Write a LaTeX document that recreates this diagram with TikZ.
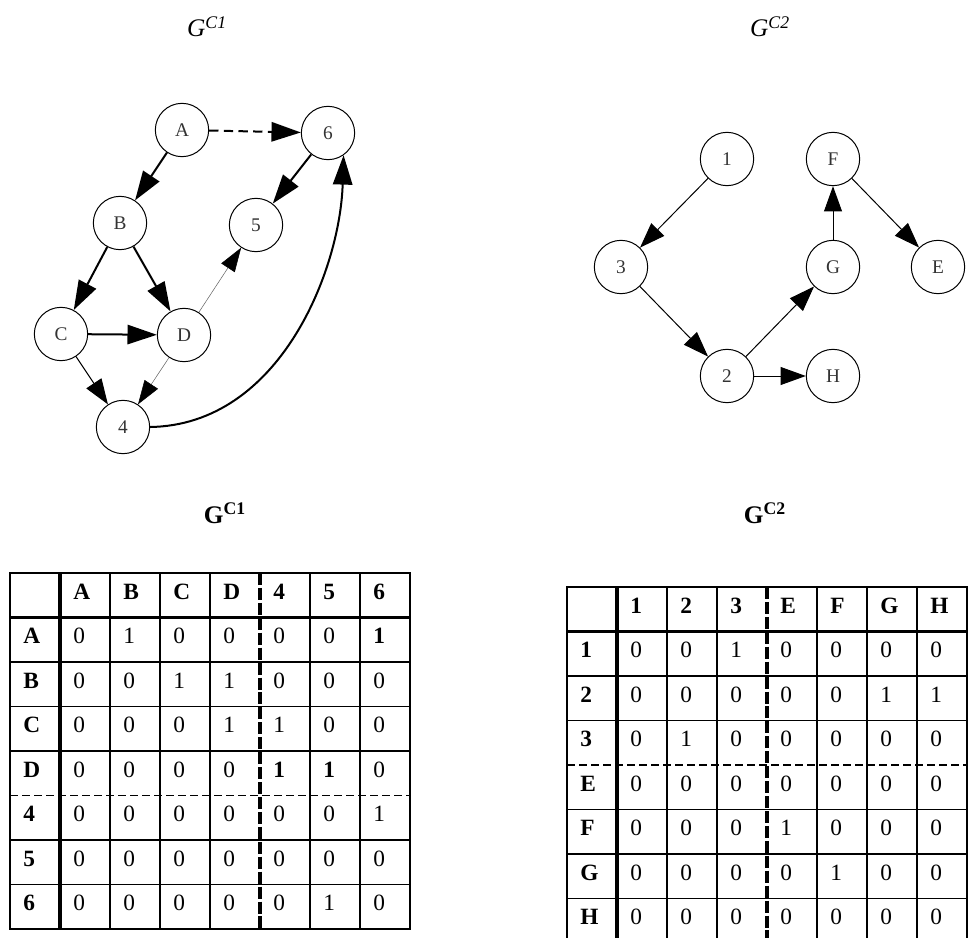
\documentclass[tikz,border=0pt]{standalone}
\usepackage{fontspec}
\setmainfont{Liberation Serif}
\usetikzlibrary{arrows.meta}

\begin{document}
\begin{tikzpicture}[x=0.75pt,y=0.75pt,yscale=-1,xscale=1,
  vertex/.style={circle, draw, line width=0.75pt, minimum size=40pt, inner sep=0pt, text=black!80, font=\fontsize{14.5}{16}\selectfont},
  heavy/.style={line width=1.5pt, -{Triangle[length=22pt,width=14.5pt]}},
  light/.style={line width=0.75pt, -{Triangle[length=19pt,width=13.5pt]}},
  faint/.style={line width=0.4pt, draw=black!60, -{Triangle[length=18pt,width=12pt,color=black]}},
  entry/.style={anchor=base west, inner sep=0pt, font=\fontsize{17.5}{20}\selectfont},
  heading/.style={anchor=base, inner sep=0pt, font=\fontsize{19}{22}\selectfont},
  gridline/.style={line width=1.1pt},
  outline/.style={line width=1.5pt},
  sepline/.style={line width=2.3pt},
  cutv/.style={line width=3pt, dash pattern={on 9pt off 2.2pt}},
  cuth/.style={line width=1.1pt, dash pattern={on 6pt off 3pt}}]
\useasboundingbox (0,0) rectangle (971,938);

% Titles
\node[heading] (t1) at (207,37) {\textit{G}\textsuperscript{\textit{C1}}};
\node[heading] (t2) at (770,37) {\textit{G}\textsuperscript{\textit{C2}}};
\node[heading] (m1) at (225,523) {\textbf{G}\textsuperscript{\textbf{C1}}};
\node[heading] (m2) at (765,523) {\textbf{G}\textsuperscript{\textbf{C2}}};

% first component
\node[vertex] (A) at (182,130) {A};
\node[vertex] (n6) at (328,133) {6};
\node[vertex] (B) at (120,223) {B};
\node[vertex] (n5) at (256,225) {5};
\node[vertex] (C) at (61,334) {C};
\node[vertex] (D) at (184,335) {D};
\node[vertex] (n4) at (123,427) {4};

\draw[heavy, dash pattern={on 7pt off 4pt}] (A) -- (n6);
\draw[heavy] (A) -- (B);
\draw[heavy] (n6) -- (n5);
\draw[heavy] (B) -- (C);
\draw[heavy] (B) -- (D);
\draw[heavy] (C) -- (D);
\draw[light] (C) -- (n4);
\draw[faint] (D) -- (n4);
\draw[faint] (D) -- (n5);
\draw[heavy] (n4.east) .. controls (280,425) and (340,270) .. (n6.-55);

% second component
\node[vertex] (n1) at (727,159) {1};
\node[vertex] (F) at (833,159) {F};
\node[vertex] (n3) at (621,267) {3};
\node[vertex] (G) at (833,267) {G};
\node[vertex] (E) at (938,267) {E};
\node[vertex] (n2) at (727,376) {2};
\node[vertex] (H) at (833,376) {H};

\draw[light] (n1) -- (n3);
\draw[light] (n3) -- (n2);
\draw[light] (n2) -- (G);
\draw[light] (n2) -- (H);
\draw[light] (G) -- (F);
\draw[light] (F) -- (E);

% matrix of the first component
\foreach \i in {2,3,4,6,7} \draw[gridline] (10+50*\i,573) -- (10+50*\i,929);
\foreach \k in {2,3,4,6,7} \draw[gridline] (10,573+44.5*\k) -- (410,573+44.5*\k);
\draw[sepline] (60,573) -- (60,929);
\draw[sepline] (10,617.5) -- (410,617.5);
\draw[cuth] (10,795.5) -- (410,795.5);
\draw[cutv] (260,573) -- (260,929);
\draw[outline] (10,573) rectangle (410,929);

\foreach \line [count=\r from 0] in {
    {{},\textbf{A},\textbf{B},\textbf{C},\textbf{D},\textbf{4},\textbf{5},\textbf{6}},
    {\textbf{A},0,1,0,0,0,0,\textbf{1}},
    {\textbf{B},0,0,1,1,0,0,0},
    {\textbf{C},0,0,0,1,1,0,0},
    {\textbf{D},0,0,0,0,\textbf{1},\textbf{1},0},
    {\textbf{4},0,0,0,0,0,0,1},
    {\textbf{5},0,0,0,0,0,0,0},
    {\textbf{6},0,0,0,0,0,1,0}}
  \foreach \val [count=\c from 0] in \line
    \node[entry] (p-\r-\c) at (23+50*\c,599+44.5*\r) {\val};

% matrix of the second component
\foreach \i in {2,3,5,6,7} \draw[gridline] (567+50*\i,587) -- (567+50*\i,938);
\foreach \k in {2,3,5,6,7} \draw[gridline] (567,587+44.5*\k) -- (967,587+44.5*\k);
\draw[sepline] (617,587) -- (617,938);
\draw[sepline] (567,631.5) -- (967,631.5);
\draw[cuth] (567,765) -- (967,765);
\draw[cutv] (767,587) -- (767,938);
\draw[outline] (567,938) -- (567,587) -- (967,587) -- (967,938);

\foreach \line [count=\r from 0] in {
    {{},\textbf{1},\textbf{2},\textbf{3},\textbf{E},\textbf{F},\textbf{G},\textbf{H}},
    {\textbf{1},0,0,1,0,0,0,0},
    {\textbf{2},0,0,0,0,0,1,1},
    {\textbf{3},0,1,0,0,0,0,0},
    {\textbf{E},0,0,0,0,0,0,0},
    {\textbf{F},0,0,0,1,0,0,0},
    {\textbf{G},0,0,0,0,1,0,0},
    {\textbf{H},0,0,0,0,0,0,0}}
  \foreach \val [count=\c from 0] in \line
    \node[entry] (q-\r-\c) at (580+50*\c,613+44.5*\r) {\val};

\end{tikzpicture}
\end{document}
